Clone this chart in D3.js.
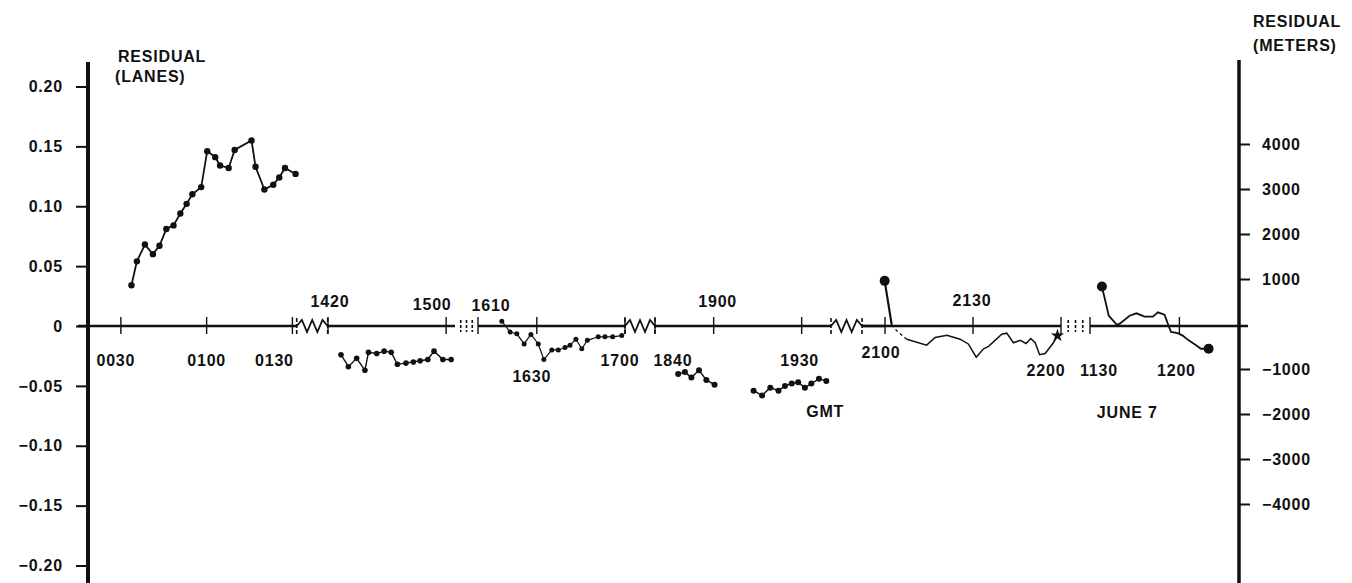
<!DOCTYPE html>
<html>
<head>
<meta charset="utf-8">
<script src="https://cdn.jsdelivr.net/npm/d3@7"></script>
<style>
  body { margin: 0; background: #fff; }
  svg { display: block; }
  text { font-family: "Liberation Sans", Arial, sans-serif; font-weight: bold; font-size: 16px; fill: #111; letter-spacing: 0.8px; }
</style>
</head>
<body>
<script>
// times are minutes after 0000 GMT June 6 (June 7 times continue past 1440)

// pieces of the record that are shown; the axis is broken between them
var segStart = [18.5, 860, 970, 1120, 1260, 2130];
var segEnd   = [91.5, 903, 1020, 1180, 1320, 2180];
var breakKind = ["zig", "dash", "zig", "zig", "dash"];

var tickTimes  = [30, 60, 90, 860, 900, 970, 990, 1020, 1120, 1140, 1170, 1260, 1290, 1320, 2130, 2160];
var tickLabels = ["0030", "0100", "0130", "1420", "1500", "1610", "1630", "1700", "1840", "1900", "1930", "2100", "2130", "2200", "1130", "1200"];

var lanesTicks = [0.20, 0.15, 0.10, 0.05, 0, -0.05, -0.10, -0.15, -0.20];
var meterTicks = [4000, 3000, 2000, 1000, -1000, -2000, -3000, -4000];

// 0030 - 0130
var s1Time  = [33.7, 35.6, 38.4, 41.2, 43.5, 45.9, 48.4, 50.8, 53.0, 55.0, 58.1, 60.2, 63.0, 64.7, 67.7, 69.8, 75.7, 77.1, 80.2, 83.3, 85.4, 87.4, 91.1];
var s1Lanes = [0.034, 0.054, 0.068, 0.060, 0.067, 0.081, 0.084, 0.094, 0.102, 0.110, 0.116, 0.146, 0.141, 0.134, 0.132, 0.147, 0.155, 0.133, 0.114, 0.118, 0.124, 0.132, 0.127];

// 1420 - 1500
var s2aTime  = [864.4, 866.9, 869.7, 872.5, 873.7, 876.5, 879.0, 881.4, 883.5, 886.4, 888.9, 891.2, 893.8, 895.9, 898.9, 901.7];
var s2aLanes = [-0.024, -0.034, -0.027, -0.037, -0.022, -0.023, -0.021, -0.022, -0.032, -0.031, -0.030, -0.029, -0.028, -0.021, -0.028, -0.028];

// 1610 - 1700
var s2bTime  = [978.1, 980.9, 983.2, 985.7, 988.0, 990.5, 992.4, 995.1, 997.3, 999.6, 1001.3, 1003.3, 1005.3, 1007.2, 1010.9, 1013.2, 1015.8, 1018.9];
var s2bLanes = [0.004, -0.005, -0.0065, -0.015, -0.007, -0.015, -0.028, -0.020, -0.020, -0.018, -0.016, -0.011, -0.019, -0.012, -0.009, -0.009, -0.009, -0.008];

// 1840 - 1900
var s3aTime  = [1127.9, 1130.2, 1132.4, 1135.0, 1137.5, 1140.3];
var s3aLanes = [-0.040, -0.0385, -0.043, -0.037, -0.045, -0.049];

// 1910 - 1940
var s3bTime  = [1153.6, 1156.5, 1159.3, 1162.1, 1164.3, 1166.6, 1168.8, 1171.1, 1173.3, 1175.9, 1178.4];
var s3bLanes = [-0.054, -0.058, -0.0515, -0.054, -0.050, -0.048, -0.047, -0.0515, -0.048, -0.044, -0.046];

// 2100 - 2200 (continuous trace)
var s4Time  = [1259.5, 1262.3, 1264.0, 1267.4, 1274.2, 1277.1, 1281.1, 1285.6, 1288.4, 1291.1, 1293.6, 1295.3, 1299.8, 1301.5, 1303.8, 1306.1, 1308.1, 1309.7, 1311.2, 1312.7, 1314.6, 1317.4, 1318.8];
var s4Lanes = [0.0377, 0.001, -0.004, -0.011, -0.016, -0.0096, -0.0077, -0.011, -0.015, -0.026, -0.019, -0.017, -0.0068, -0.006, -0.014, -0.012, -0.0146, -0.0104, -0.014, -0.024, -0.023, -0.014, -0.008];

// June 7, 1130 - 1210 (continuous trace)
var s5Time  = [2134.0, 2136.3, 2139.0, 2140.0, 2143.3, 2145.6, 2148.3, 2151.1, 2152.8, 2155.0, 2156.4, 2157.2, 2159.4, 2161.1, 2163.1, 2165.6, 2167.2, 2169.8];
var s5Lanes = [0.033, 0.0086, 0.001, 0.002, 0.0086, 0.0106, 0.0078, 0.0078, 0.0114, 0.0094, 0.0, -0.005, -0.006, -0.008, -0.012, -0.016, -0.019, -0.019];

// ---- layout ----
var W = 1352, H = 583;
var leftX = 88, rightX = 1239;

// piecewise scale: each shown piece gets its own stretch of the axis
var xDomain = [], xRange = [18.5, 296.7, 328, 455, 478, 625, 655, 831, 885, 1061, 1090, rightX];
xRange[0] = leftX;
segStart.forEach(function(s, i) { xDomain.push(s, segEnd[i]); });
var x = d3.scaleLinear().domain(xDomain).range(xRange);

var y = d3.scaleLinear().domain([-0.2, 0.2]).range([565.5, 86.5]);
var ym = d3.scaleLinear().domain([-4000, 4000]).range([504, 144]);
var y0 = y(0);

// label placement: [dx from tick, dy from zero line]
var labelPlace = {
  "0030": [-5, 34], "0100": [0, 34], "0130": [-18, 34], "1420": [2, -25],
  "1500": [-14, -22], "1610": [13, -21], "1630": [-5, 50], "1700": [-5, 34],
  "1840": [18, 34], "1900": [4, -25], "1930": [-2, 34], "2100": [-4, 26],
  "2130": [-1, -26], "2200": [-15, 44], "1130": [9, 44], "1200": [-3, 44]
};

var svg = d3.select("body").append("svg")
    .attr("width", W)
    .attr("height", H);

// zero line, one piece per shown stretch
segStart.forEach(function(s, i) {
  var xa = i === 0 ? 78 : x(s);
  if (i > 0 && breakKind[i - 1] === "zig") xa = Math.min(x(segEnd[i - 1]) + 31, x(s));
  var xb = i === segStart.length - 1 ? 1248 : x(segEnd[i]);
  svg.append("line")
    .attr("x1", xa).attr("x2", xb)
    .attr("y1", y0).attr("y2", y0)
    .attr("stroke", "#111").attr("stroke-width", 2.4);
});

// axis break symbols
breakKind.forEach(function(kind, i) {
  var xa = x(segEnd[i]), xb = x(segStart[i + 1]);
  var g = svg.append("g").attr("stroke", "#111").attr("fill", "none");
  if (kind === "zig") {
    var w = Math.min(31, xb - xa), xe = xa + w;
    var pts = [[xa, y0]];
    for (var k = 1; k < 6; k++) pts.push([xa + k * w / 6, y0 + (k % 2 ? -6 : 6)]);
    pts.push([xe, y0]);
    g.append("path").attr("d", d3.line()(pts)).attr("stroke-width", 1.8);
    [xa, xe].forEach(function(bx) {
      g.append("line").attr("x1", bx).attr("x2", bx)
        .attr("y1", y0 - 8).attr("y2", y0 + 8)
        .attr("stroke-width", 1.6).attr("stroke-dasharray", "4,2");
    });
    if (xb - xe > 1) {
      g.append("line").attr("x1", xe).attr("x2", xb)
        .attr("y1", y0).attr("y2", y0).attr("stroke-width", 2.4);
    }
  } else {
    for (var j = 1; j < 4; j++) {
      var bx = xa + (xb - xa) * j / 4;
      g.append("line").attr("x1", bx).attr("x2", bx)
        .attr("y1", y0 - 6).attr("y2", y0 + 6)
        .attr("stroke-width", 1.6).attr("stroke-dasharray", "3,2");
    }
  }
});

// time ticks and labels
tickTimes.forEach(function(t, i) {
  svg.append("line")
    .attr("x1", x(t)).attr("x2", x(t))
    .attr("y1", y0 - 9).attr("y2", y0 + 8)
    .attr("stroke", "#111").attr("stroke-width", 1.4);
  var p = labelPlace[tickLabels[i]];
  svg.append("text")
    .attr("x", x(t) + p[0])
    .attr("y", y0 + p[1])
    .attr("text-anchor", "middle")
    .attr("dominant-baseline", "central")
    .text(tickLabels[i]);
});

// left axis (lanes)
var fmtLanes = function(v) { return v === 0 ? "0" : d3.format(".2f")(v); };
var gl = svg.append("g")
    .attr("transform", "translate(" + leftX + ",0)")
    .call(d3.axisLeft(y).tickValues(lanesTicks).tickSize(12).tickPadding(13).tickFormat(fmtLanes));
gl.select(".domain").remove();
gl.selectAll(".tick line").attr("stroke", "#111").attr("stroke-width", 2);
svg.append("line")
  .attr("x1", leftX).attr("x2", leftX).attr("y1", 62).attr("y2", H)
  .attr("stroke", "#111").attr("stroke-width", 4);

// right axis (meters)
var gr = svg.append("g")
    .attr("transform", "translate(" + rightX + ",0)")
    .call(d3.axisRight(ym).tickValues(meterTicks).tickSize(11).tickPadding(12).tickFormat(d3.format("d")));
gr.select(".domain").remove();
gr.selectAll(".tick line").attr("stroke", "#111").attr("stroke-width", 2);
svg.append("line")
  .attr("x1", rightX).attr("x2", rightX).attr("y1", 60).attr("y2", H)
  .attr("stroke", "#111").attr("stroke-width", 3.5);

// axis titles
svg.append("text").attr("x", 118).attr("y", 56).attr("dominant-baseline", "central").text("RESIDUAL");
svg.append("text").attr("x", 115).attr("y", 76).attr("dominant-baseline", "central").text("(LANES)");
svg.append("text").attr("x", 1253).attr("y", 21).attr("dominant-baseline", "central").text("RESIDUAL");
svg.append("text").attr("x", 1253).attr("y", 45).attr("dominant-baseline", "central").text("(METERS)");
svg.append("text").attr("x", x(1178)).attr("y", y(-0.071)).attr("text-anchor", "middle")
  .attr("dominant-baseline", "central").text("GMT");
svg.append("text").attr("x", x(2142.5)).attr("y", y(-0.072)).attr("text-anchor", "middle")
  .attr("dominant-baseline", "central").text("JUNE 7");

// data
function pairs(ts, vs) {
  return ts.map(function(t, i) { return {t: t, v: vs[i]}; });
}
var line = d3.line()
    .x(function(d) { return x(d.t); })
    .y(function(d) { return y(d.v); });

function drawDots(ts, vs, r, lw) {
  var data = pairs(ts, vs);
  svg.append("path")
    .datum(data)
    .attr("fill", "none")
    .attr("stroke", "#111")
    .attr("stroke-width", lw)
    .attr("d", line);
  svg.append("g").selectAll("circle")
    .data(data)
    .enter().append("circle")
    .attr("cx", function(d) { return x(d.t); })
    .attr("cy", function(d) { return y(d.v); })
    .attr("r", r)
    .attr("fill", "#111");
}

drawDots(s1Time, s1Lanes, 3.2, 1.8);
drawDots(s2aTime, s2aLanes, 2.8, 1.4);
drawDots(s2bTime, s2bLanes, 2.5, 1.2);
drawDots(s3aTime, s3aLanes, 3, 1.4);
drawDots(s3bTime, s3bLanes, 3, 1.4);

// 2100 - 2200 trace: drop to the zero line, short dashed run, then solid
var s4 = pairs(s4Time, s4Lanes);
svg.append("path").datum(s4.slice(0, 2))
  .attr("fill", "none").attr("stroke", "#111").attr("stroke-width", 2.2).attr("d", line);
svg.append("path").datum(s4.slice(1, 4))
  .attr("fill", "none").attr("stroke", "#111").attr("stroke-width", 1.3)
  .attr("stroke-dasharray", "3,3").attr("d", line);
svg.append("path").datum(s4.slice(3))
  .attr("fill", "none").attr("stroke", "#111").attr("stroke-width", 1.5).attr("d", line);
svg.append("circle")
  .attr("cx", x(s4[0].t)).attr("cy", y(s4[0].v)).attr("r", 5).attr("fill", "#111");
var last4 = s4[s4.length - 1];
svg.append("path")
  .attr("d", d3.symbol(d3.symbolStar, 55)())
  .attr("transform", "translate(" + x(last4.t) + "," + y(last4.v) + ")")
  .attr("fill", "#111");

// June 7 trace
var s5 = pairs(s5Time, s5Lanes);
svg.append("path").datum(s5)
  .attr("fill", "none").attr("stroke", "#111").attr("stroke-width", 1.8).attr("d", line);
[s5[0], s5[s5.length - 1]].forEach(function(d) {
  svg.append("circle")
    .attr("cx", x(d.t)).attr("cy", y(d.v)).attr("r", 5).attr("fill", "#111");
});
</script>
</body>
</html>
